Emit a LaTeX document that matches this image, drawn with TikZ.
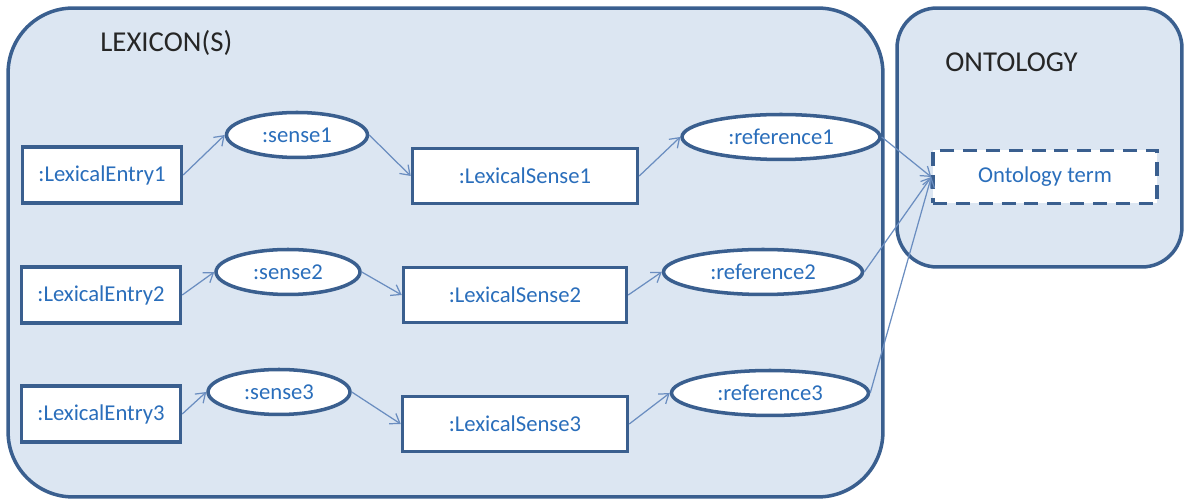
\documentclass[tikz,border=0pt]{standalone}
\usepackage{fontspec}
\setmainfont{Carlito}
\usetikzlibrary{arrows.meta, shapes.geometric}
\definecolor{panelfill}{HTML}{DCE6F2}
\definecolor{edgeblue}{HTML}{3A5F8F}
\definecolor{linkblue}{HTML}{6A8DC0}
\definecolor{labelblue}{HTML}{2A6EBB}
\tikzset{
	x=0.02cm, y=-0.02cm,
	panel/.style ={rectangle, draw=edgeblue, fill=panelfill, line width=2pt},
	heading/.style = {anchor=west, inner sep=0pt, text=black!85, font=\fontsize{16.4}{19}\selectfont},
	entity/.style ={rectangle, draw=edgeblue, fill=white, line width=2pt, text=labelblue, font=\fontsize{12.9}{15}\selectfont, minimum height=1.12cm},
	relation/.style ={ellipse, draw=edgeblue, fill=white, line width=2pt, inner sep=0pt, text=labelblue, font=\fontsize{12.9}{15}\selectfont, minimum height=0.9cm},
	link/.style = {-{Straight Barb[length=5pt, width=7pt]}, draw=linkblue, line width=0.7pt}
}

\begin{document}
\begin{tikzpicture}
		\useasboundingbox (0,0) rectangle (1184,499);
		
		% Panels
		\node[panel, rounded corners=1.3cm, minimum width=17.5cm, minimum height=9.78cm] (lex) at (445.5,252.5) {};
		\node[panel, rounded corners=0.8cm, minimum width=5.7cm, minimum height=5.18cm] (onto) at (1039.5,137.5) {};
		\node[heading] (lexhead) at (100,43) {LEXICON(S)};
		\node[heading] (ontohead) at (945,62) {ONTOLOGY};
		
		% Lexical entries
		\node[entity, minimum width=3.18cm] (e1) at (102,175) {:LexicalEntry1};
		\node[entity, minimum width=3.18cm] (e2) at (101,295) {:LexicalEntry2};
		\node[entity, minimum width=3.18cm] (e3) at (101,414) {:LexicalEntry3};
		
		% Senses
		\node[relation, minimum width=2.82cm] (s1) at (297,135) {:sense1};
		\node[relation, minimum width=2.88cm] (s2) at (288,272) {:sense2};
		\node[relation, minimum width=2.84cm] (s3) at (279,392) {:sense3};
		
		% Lexical senses
		\node[entity, minimum width=4.5cm, minimum height=1.1cm] (ls1) at (525,176) {:LexicalSense1};
		\node[entity, minimum width=4.46cm, minimum height=1.1cm] (ls2) at (515,295) {:LexicalSense2};
		\node[entity, minimum width=4.5cm, minimum height=1.1cm] (ls3) at (515,424) {:LexicalSense3};
		
		% References
		\node[relation, minimum width=3.96cm] (r1) at (781,137) {:reference1};
		\node[relation, minimum width=3.98cm] (r2) at (763,272) {:reference2};
		\node[relation, minimum width=3.94cm] (r3) at (770,393) {:reference3};
		
		\node[entity, dash pattern=on 8pt off 5pt, minimum width=4.48cm, minimum height=1.06cm] (term) at (1045,177) {Ontology term};
		
		% Directed edges
		\foreach \i in {1,2,3} {
			\draw[link] (e\i.east) -- (s\i.west);
			\draw[link] (s\i.east) -- (ls\i.west);
			\draw[link] (ls\i.east) -- (r\i.west);
			\draw[link] (r\i.east) -- (term.west);
		}
\end{tikzpicture}
\end{document}
